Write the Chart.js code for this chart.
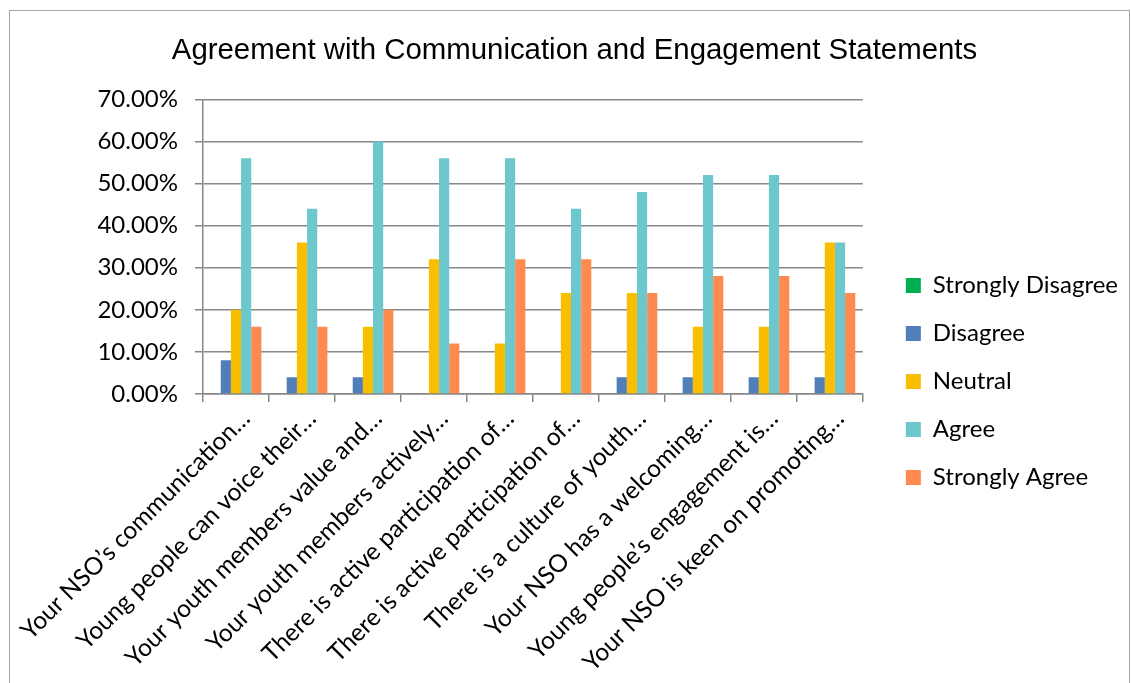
<!DOCTYPE html>
<html>
<head>
<meta charset="utf-8">
<script src="https://cdn.jsdelivr.net/npm/chart.js@4/dist/chart.umd.min.js"></script>
<style>
  html, body { margin: 0; padding: 0; background: #fff; }
  #frame {
    position: absolute; left: 9px; top: 10px; width: 1121px; height: 700px;
    border: 1px solid #a6a6a6; box-sizing: border-box;
  }
  #chart { position: absolute; left: 0; top: 0; }
</style>
</head>
<body>
<div id="frame"></div>
<canvas id="chart" width="1131" height="683"></canvas>
<script>
// Survey statements (truncated as shown on the axis)
const statements = [
    'Your NSO\u2019s communication\u2026',
    'Young people can voice their\u2026',
    'Your youth members value and\u2026',
    'Your youth members actively\u2026',
    'There is active participation of\u2026',
    'There is active participation of\u2026',
    'There is a culture of youth\u2026',
    'Your NSO has a welcoming\u2026',
    'Young people\u2019s engagement is\u2026',
    'Your NSO is keen on promoting\u2026'
];

// Share of responses, in percent
const stronglyDisagree = [0, 0, 0, 0, 0, 0, 0, 0, 0, 0];
const disagree         = [8, 4, 4, 0, 0, 0, 4, 4, 4, 4];
const neutral          = [20, 36, 16, 32, 12, 24, 24, 16, 16, 36];
const agree            = [56, 44, 60, 56, 56, 44, 48, 52, 52, 36];
const stronglyAgree    = [16, 16, 20, 12, 32, 32, 24, 28, 28, 24];

const yTicks = [0, 10, 20, 30, 40, 50, 60, 70];

const gridColor = '#878787';
const sideFont = 'Lato, "Open Sans", sans-serif';
const padLeft = 40;

function series(label, data, color) {
    return {
        label: label,
        data: data,
        backgroundColor: color,
        borderWidth: 0,
        categoryPercentage: 0.77,
        barPercentage: 1.0
    };
}

// nudge the legend block a little right and down from where the layout puts it
const legendNudge = {
    id: 'legendNudge',
    afterLayout(chart) {
        const lg = chart.legend;
        const dx = 19, dy = 40;
        lg.left += dx; lg.right += dx;
        lg.top += dy; lg.bottom += dy;
    }
};

const ctx = document.getElementById('chart').getContext('2d');
const chart = new Chart(ctx, {
    type: 'bar',
    data: {
        labels: statements,
        datasets: [
            series('Strongly Disagree', stronglyDisagree, '#00B050'),
            series('Disagree', disagree, '#4F7EB9'),
            series('Neutral', neutral, '#F9BE00'),
            series('Agree', agree, '#6CC8CC'),
            series('Strongly Agree', stronglyAgree, '#FF8A4F')
        ]
    },
    plugins: [legendNudge],
    options: {
        responsive: false,
        animation: false,
        layout: { padding: { left: padLeft, right: 22, top: 0, bottom: 0 } },
        plugins: {
            title: {
                display: true,
                text: 'Agreement with Communication and Engagement Statements',
                color: '#000',
                font: { family: '"Liberation Sans", Arial, sans-serif', size: 29.4, weight: 'normal' },
                padding: { top: 33, bottom: 31 }
            },
            legend: {
                position: 'right',
                labels: {
                    color: '#000',
                    font: { family: sideFont, size: 24 },
                    boxWidth: 15,
                    boxHeight: 15,
                    padding: 24
                }
            },
            tooltip: { enabled: false }
        },
        scales: {
            x: {
                offset: true,
                afterFit: function(axis) { axis.height = 683 - 394; },
                grid: {
                    display: true,
                    drawOnChartArea: false,
                    drawTicks: true,
                    tickLength: 8,
                    color: gridColor,
                    lineWidth: 1.5,
                    offset: true
                },
                border: { color: gridColor, width: 1.5 },
                ticks: {
                    color: '#000',
                    font: { family: sideFont, size: 24.5 },
                    maxRotation: 45,
                    minRotation: 45,
                    autoSkip: false,
                    padding: 2,
                    labelOffset: 10
                }
            },
            y: {
                min: 0,
                max: 70,
                afterFit: function(axis) { axis.width = 203 - padLeft; },
                afterBuildTicks: function(axis) {
                    axis.ticks = yTicks.map(v => ({ value: v }));
                },
                grid: {
                    color: gridColor,
                    lineWidth: 1.5,
                    tickLength: 8
                },
                border: { color: gridColor, width: 1.5 },
                ticks: {
                    color: '#000',
                    font: { family: sideFont, size: 24 },
                    padding: 17,
                    callback: function(v) { return v.toFixed(2) + '%'; }
                }
            }
        }
    }
});
</script>
</body>
</html>
